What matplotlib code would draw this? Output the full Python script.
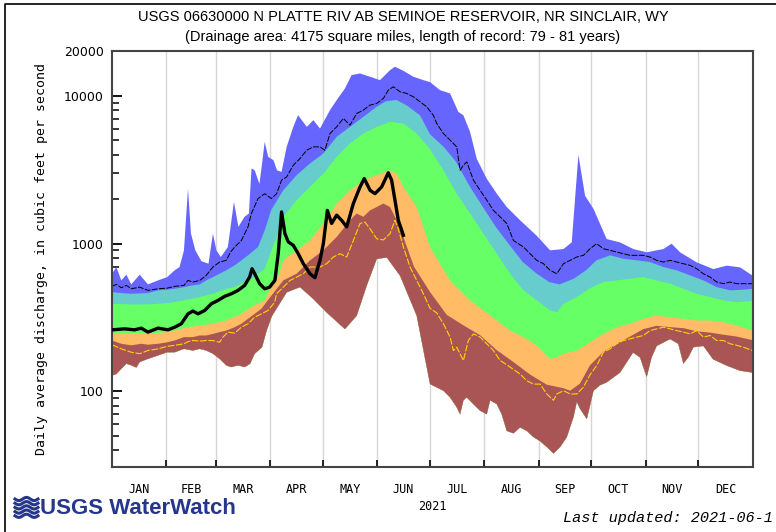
import matplotlib
matplotlib.use("Agg")
import matplotlib.pyplot as plt
import numpy as np
from matplotlib.lines import Line2D
from matplotlib.ticker import FixedLocator, NullFormatter

# day of year / daily discharge (cfs) for each percentile envelope
max_day = [0, 2.5, 5.3, 8.2, 11, 15.8, 20.5, 26.2, 31.5, 35.7, 38.5, 41, 43.3, 45, 47.5,
           51, 55, 57.5, 59.5, 62, 66, 69.5, 72, 75.5, 78, 79.5, 81.3, 84, 85.5, 87,
           89, 92, 94, 96.6, 99.5, 103.3, 106, 111, 114.7, 118.5, 124.2, 128, 132.7, 136.5, 141.3,
           147, 152.7, 158.4, 161.2, 166, 171.7, 177.4, 181.2, 186.9, 192.6, 197.3, 200.2, 204, 207.8, 213.5,
           219.2, 224.9, 232.5, 242, 249.6, 257.2, 261.9, 265.7, 269.5, 274.3, 281.8, 289.4, 297, 304.6, 314.1,
           318.8, 323.6, 333.1, 342.6, 350.2, 357.8, 365]
max_cfs = [626, 695, 564, 617, 530, 617, 530, 564, 594, 660, 695, 901, 2360, 1170, 900,
           760, 732, 1170, 901, 812, 949, 1920, 1300, 1520, 1600, 3230, 3140, 2540, 3490, 4890,
           3870, 3670, 3140, 3060, 4520, 6180, 7410, 6180, 6860, 6020, 8020, 9370, 11240, 13840, 14200,
           13490, 12800, 14960, 15770, 14800, 13490, 12800, 12410, 10950, 10400, 7810, 7390, 5700, 3750, 2750,
           2180, 1770, 1440, 1130, 901, 920, 1020, 3990, 2110, 1720, 1075, 1020, 920, 874, 920,
           1000, 874, 747, 673, 710, 691, 607]

p90_day = [0, 5.3, 11, 20.5, 26.2, 31.5, 35.7, 41, 46.1, 50, 53.7, 57.5, 61.3, 65.1, 69.9,
           73.7, 77.5, 83.2, 87, 90.8, 97.6, 105.2, 112.8, 120.4, 128, 135.6, 143.2, 150.8, 156, 162,
           167.9, 175.5, 181.2, 189, 196, 204, 211, 219, 227, 234, 242, 249, 255, 263, 270,
           276, 283.7, 291.3, 298.9, 306.5, 314.1, 321.7, 329.3, 336.9, 344.5, 352.1, 359.7, 365]
p90_cfs = [470, 463, 458, 463, 483, 488, 495, 508, 522, 530, 564, 594, 626, 660, 713,
           771, 834, 949, 1230, 1700, 2300, 2910, 3490, 4080, 5290, 6180, 7220, 8450, 9200, 9400,
           8630, 7390, 5500, 4520, 3580, 2420, 1790, 1280, 960, 751, 626, 550, 530, 579, 660,
           771, 834, 790, 771, 751, 695, 660, 610, 564, 508, 483, 488, 495]

p75_day = [0, 11, 20.5, 31.5, 41, 50, 57.5, 65.1, 69.9, 73.7, 79.4, 83.2, 87, 90.5, 94.6,
           97.6, 105.2, 112.8, 120.4, 128, 135.6, 143.2, 150.8, 158.4, 166, 173.6, 181.2, 188.8, 196.4, 204,
           211.6, 219.2, 226.8, 234.4, 242, 249.6, 253.4, 257.2, 264.8, 272.3, 279.9, 287.5, 295.1, 302.7, 310.3,
           317.9, 325.5, 333.1, 340.7, 348.3, 355.9, 365]
p75_cfs = [392, 388, 388, 396, 413, 435, 458, 495, 508, 536, 579, 626, 677, 880, 1170,
           1520, 1970, 2420, 2980, 3870, 4770, 5570, 6180, 6680, 6510, 5570, 4350, 3140, 2180, 1600,
           1170, 855, 626, 483, 413, 353, 344, 392, 435, 500, 550, 564, 579, 594, 564,
           536, 495, 458, 435, 413, 402, 410]

p25_day = [0, 11, 20.5, 31.5, 41, 50, 57.5, 65.1, 73.7, 79.4, 83.2, 87, 90.5, 94.6, 97.6,
           105.2, 112.8, 120.4, 128, 135.6, 143.2, 150.8, 158.4, 162.2, 166, 173.6, 181.2, 186.8, 192.6, 196.4,
           204, 211.6, 219.2, 226.8, 234.4, 242, 249.6, 253.4, 257.2, 264.8, 272.3, 279.9, 287.5, 295.1, 302.7,
           310.3, 317.9, 325.5, 333.1, 340.7, 348.3, 355.9, 365]
p25_cfs = [245, 248, 245, 252, 268, 279, 287, 302, 335, 372, 392, 413, 508, 594, 771,
           901, 1050, 1370, 1870, 2300, 2690, 2910, 3140, 2980, 2420, 1770, 949, 732, 564, 508,
           413, 353, 302, 258, 233, 205, 166, 170, 180, 189, 215, 245, 272, 287, 310,
           327, 318, 310, 302, 302, 294, 279, 258]

p10_day = [0, 5.3, 11, 16.7, 20.5, 26.2, 31.5, 35.7, 41, 46.1, 50, 53.7, 57.5, 61.3, 65.1,
           69.9, 73.7, 77.5, 81.3, 85.1, 90.5, 97.6, 105.2, 112.8, 120.4, 128, 135.6, 139.4, 143.2, 147,
           150.8, 154.6, 158.4, 162.2, 166, 172, 181.2, 190.7, 200.2, 209.7, 219.2, 228.7, 238.2, 247.7, 257.2,
           261, 266.6, 272.3, 279.9, 287.5, 295.1, 302.7, 310.3, 317.9, 325.5, 333.1, 340.7, 348.3, 355.9, 365]
p10_cfs = [221, 210, 205, 210, 207, 210, 215, 221, 233, 233, 239, 239, 245, 252, 258,
           272, 287, 310, 335, 362, 440, 564, 626, 771, 901, 1110, 1440, 1600, 1520, 1680,
           1770, 1870, 1770, 1440, 1110, 700, 470, 330, 280, 240, 190, 158, 130, 111, 105,
           101, 113, 150, 185, 210, 235, 264, 278, 272, 268, 255, 250, 242, 235, 222]

min_day = [0, 2.5, 5.3, 8.2, 11, 13.9, 15.8, 20.5, 26.2, 31.5, 35.7, 41, 46.1, 50, 53.7,
           57.5, 61.3, 65.1, 67.9, 71.8, 75.6, 78.7, 81.3, 85.5, 88.1, 91.1, 99.5, 107.1, 114.7, 122.3,
           132.7, 139.4, 145.1, 150.8, 156.5, 164.1, 173.6, 177.4, 181.2, 188.8, 192.6, 196.4, 198.3, 200.2, 202.1,
           205.9, 209.7, 213.5, 215.4, 219.2, 222, 224.9, 228.7, 232.5, 236.3, 240.1, 243.9, 247.7, 251.5, 255.3,
           259.1, 262.9, 264.8, 266.7, 270.5, 274.3, 278, 281.8, 289.4, 296.8, 300.8, 304.6, 307.4, 310.3, 317.9,
           322.6, 325.5, 328.3, 331.2, 336.9, 342.4, 350.4, 357.8, 365]
min_cfs = [128, 131, 142, 154, 150, 145, 158, 166, 175, 184, 184, 194, 189, 194, 189,
           180, 166, 150, 146, 150, 146, 154, 180, 199, 258, 323, 468, 508, 422, 342,
           264, 325, 519, 787, 807, 607, 325, 190, 112, 101, 91, 78, 70, 87, 91,
           82, 74, 70, 87, 82, 70, 54, 52, 57, 54, 49, 46, 42, 38, 42,
           49, 67, 85, 76, 65, 101, 110, 115, 134, 183, 170, 125, 170, 203, 226,
           210, 154, 170, 199, 203, 165, 149, 138, 134]

# thin black trace
mean_day = [0, 2.5, 5.3, 8.2, 11, 15.8, 20.5, 26.2, 31.5, 35.7, 41, 43.3, 46.1, 50, 53.7,
            57.5, 61.3, 65.1, 67.6, 69.9, 73.7, 77.5, 79.4, 83.2, 87, 90.8, 93.8, 96.6, 99.5, 103.3,
            107.1, 110.9, 114.7, 118.5, 121.3, 124.2, 128, 131.8, 135.6, 139.4, 143.2, 147, 150.8, 154.6, 157.4,
            160.3, 164.1, 167.9, 171.7, 175.5, 179.3, 183, 185, 188.8, 192.6, 196.4, 198.3, 200.2, 202.1, 205.9,
            209.7, 213.5, 217.3, 221.1, 224.9, 228.7, 234.4, 238.2, 242, 245.8, 249.6, 253.4, 257.2, 261, 264.8,
            268.6, 272.4, 276.1, 279.9, 283.7, 287.5, 291.3, 295.1, 302.7, 306.5, 310.3, 314.1, 317.9, 321.7, 325.5,
            329.3, 333.1, 336.9, 340.7, 344.5, 348.3, 352.1, 355.9, 365]
mean_cfs = [514, 530, 503, 522, 495, 508, 483, 495, 500, 514, 522, 564, 550, 564, 610,
            695, 751, 771, 880, 949, 1050, 1300, 1600, 2020, 2180, 2020, 2180, 2690, 2830, 3400,
            3770, 4290, 4520, 4520, 4290, 5570, 6180, 7040, 6340, 7610, 8020, 8670, 8900, 9620, 10950,
            11540, 10670, 10400, 9870, 9130, 8450, 7410, 6510, 5570, 5020, 4520, 3140, 3400, 3580, 2690,
            2300, 1970, 1680, 1520, 1370, 1050, 949, 855, 771, 732, 660, 626, 732, 771, 812,
            834, 925, 1000, 925, 901, 878, 855, 834, 834, 812, 771, 751, 771, 751, 732,
            713, 677, 626, 594, 550, 536, 550, 536, 536]

# thin yellow trace
yel_day = [0, 5.3, 8.2, 11, 15.8, 20.5, 26.2, 31.5, 35.7, 41, 43.3, 46.1, 50, 53.7, 57.5,
           61.3, 63.2, 66.1, 69.9, 73.7, 77.5, 81.3, 85.1, 88.9, 92.7, 93.8, 97.6, 101.4, 105.2, 109,
           112.8, 118.5, 122.3, 126.1, 129.9, 133.7, 137.5, 141.3, 144.1, 147, 150.8, 154.6, 158.4, 161.2, 163.1,
           166, 169.8, 173.6, 177.4, 181.2, 185, 188.8, 192.6, 194.5, 196.4, 200.2, 203, 205.9, 209.7, 213.5,
           217.3, 221.1, 226.8, 232.5, 236.3, 240.1, 243.9, 247.7, 251.5, 253.4, 257.2, 261, 264.8, 268.6, 272.4,
           276.2, 279.9, 283.7, 287.5, 291.3, 295.1, 298.9, 302.7, 306.5, 310.3, 314.1, 317.9, 321.7, 325.5, 329.3,
           333.1, 336.9, 340.7, 344.5, 348.3, 352.1, 355.9, 359.7, 365]
yel_cfs = [207, 194, 189, 184, 180, 189, 194, 202, 205, 210, 217, 221, 219, 221, 221,
           215, 233, 252, 248, 272, 287, 318, 335, 353, 402, 458, 508, 564, 594, 626,
           695, 695, 732, 812, 855, 812, 1050, 1370, 1400, 1260, 1080, 1060, 1170, 1440, 1260,
           949, 695, 564, 458, 365, 340, 287, 233, 189, 199, 162, 221, 245, 233, 210,
           189, 162, 146, 131, 118, 112, 112, 96, 87, 96, 101, 96, 96, 107, 130,
           150, 184, 194, 210, 221, 227, 233, 239, 258, 265, 272, 265, 258, 252, 245,
           258, 233, 239, 221, 221, 210, 205, 199, 189]

# 2021 daily flow
cur_day = [0, 7.2, 12.9, 16.7, 20.5, 26.2, 31.9, 35.7, 39.5, 43.3, 46.1, 49, 52.8, 56.6, 60.4,
           64.2, 68, 71.8, 75.6, 78.4, 79.8, 81.3, 84.1, 87, 89.8, 92.8, 94.7, 96.6, 98.5, 100.4,
           103.3, 106.1, 109, 112.8, 115.6, 118.5, 120.4, 122.7, 125.1, 128, 130.8, 133.7, 137.5, 141.3, 143.7,
           147, 149.8, 153.6, 157.4, 159.3, 161.2, 163.1, 166]
cur_cfs = [261, 265, 261, 268, 252, 268, 261, 272, 287, 335, 350, 335, 353, 392, 413,
           440, 458, 483, 522, 594, 677, 626, 536, 495, 508, 564, 855, 1640, 1170, 1030,
           974, 855, 732, 626, 588, 771, 1000, 1680, 1370, 1560, 1440, 1300, 1870, 2420, 2760,
           2300, 2180, 2420, 3020, 2690, 1970, 1440, 1140]

month_starts = [31, 59, 90, 120, 151, 181, 212, 243, 273, 304, 334]
month_mid = [15.5, 45, 74.5, 105, 135.5, 166, 196.5, 227.5, 258, 288.5, 319, 349.5]
month_names = ['JAN', 'FEB', 'MAR', 'APR', 'MAY', 'JUN',
               'JUL', 'AUG', 'SEP', 'OCT', 'NOV', 'DEC']
y_ticks = [100, 1000, 10000, 20000]

logo_blue = '#25368c'

fig = plt.figure(figsize=(7.76, 5.32), dpi=100)
ax = fig.add_axes([0.1443, 0.1231, 0.8257, 0.7801])
ax.set_yscale('log')

# stacked envelopes, each closed against the minimum curve
bands = [(max_day, max_cfs, '#6666ff'),
         (p90_day, p90_cfs, '#66cccc'),
         (p75_day, p75_cfs, '#66ff66'),
         (p25_day, p25_cfs, '#ffbb66'),
         (p10_day, p10_cfs, '#aa5555')]
for d, v, c in bands:
    xs = np.concatenate([d, min_day[::-1]])
    ys = np.concatenate([v, min_cfs[::-1]])
    ax.fill(xs, ys, color=c, lw=0, zorder=1)

ax.plot(yel_day, yel_cfs, color='#ffd400', lw=0.8, zorder=2,
        linestyle=(0, (6, 1.5)))
ax.plot(mean_day, mean_cfs, color='black', lw=0.7, zorder=2,
        linestyle=(0, (6, 1.5)))
ax.plot(cur_day, cur_cfs, color='black', lw=2.4, zorder=3,
        solid_joinstyle='round')

ax.set_xlim(0, 365)
ax.set_ylim(31, 20000)

# month boundaries: light grid + short inward ticks
ax.set_axisbelow(True)
ax.xaxis.set_minor_locator(FixedLocator(month_starts))
ax.grid(which='minor', axis='x', color='#d6d6d6', lw=1.0)
ax.tick_params(axis='x', which='minor', direction='in', length=5, width=1.2,
               color='black')
ax.set_xticks(month_mid)
ax.set_xticklabels(month_names, family='DejaVu Sans Mono', fontsize=8.5)
ax.tick_params(axis='x', which='major', length=0, pad=12)

ax.yaxis.set_major_locator(FixedLocator(y_ticks))
ax.set_yticklabels([str(t) for t in y_ticks], fontsize=9)
minor_y = [m * 10 ** e for e in (1, 2, 3) for m in range(2, 10)]
ax.yaxis.set_minor_locator(FixedLocator([v for v in minor_y if v > 31]))
ax.yaxis.set_minor_formatter(NullFormatter())
ax.tick_params(axis='y', which='major', direction='in', length=7, width=1.3, pad=6)
ax.tick_params(axis='y', which='minor', direction='in', length=5, width=1.1)

for s in ax.spines.values():
    s.set_color('#444444')
    s.set_linewidth(1.5)

W, H = 776, 532
fig.text(403 / W, 1 - 17 / H,
         'USGS 06630000 N PLATTE RIV AB SEMINOE RESERVOIR, NR SINCLAIR, WY',
         ha='center', va='center', fontsize=10.5, family='Liberation Sans')
fig.text(403 / W, 1 - 37 / H,
         '(Drainage area: 4175 square miles, length of record: 79 - 81 years)',
         ha='center', va='center', fontsize=10.5, family='Liberation Sans')
fig.text(42 / W, 1 - 259 / H,
         'Daily average discharge, in cubic feet per second',
         rotation=90, ha='center', va='center', fontsize=9.5,
         family='DejaVu Sans Mono')
fig.text(432 / W, 1 - 507 / H, '2021', ha='center', va='center',
         fontsize=8.5, family='DejaVu Sans Mono')
fig.text(563 / W, 1 - 518 / H, 'Last updated: 2021-06-1', ha='left',
         va='center', fontsize=11, family='Liberation Mono', style='italic')

# WaterWatch logo
fig.text(40 / W, 1 - 508 / H, 'USGS WaterWatch', ha='left', va='center',
         fontsize=16, weight='bold', color=logo_blue, family='Liberation Sans')
t = np.linspace(0, 1, 30)
for k in range(5):
    x = 15 + 23 * t
    y = 499 + 4.2 * k + 1.6 * np.sin(2 * np.pi * t * 1.5)
    fig.add_artist(Line2D(x / W, 1 - y / H, color=logo_blue, lw=2.2,
                          transform=fig.transFigure))

# outer frame (left and top edges)
fig.add_artist(Line2D([5 / W, 5 / W, 1], [0, 1 - 4 / H, 1 - 4 / H],
                      color='black', lw=1.2, transform=fig.transFigure))

fig.savefig('out.png', dpi=100)
